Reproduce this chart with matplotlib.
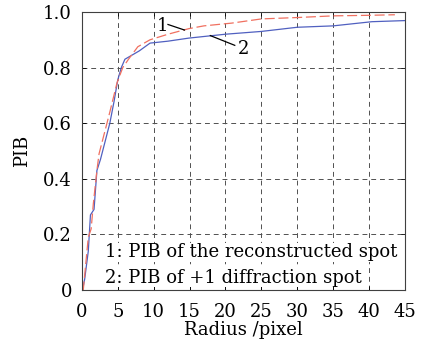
import matplotlib
matplotlib.use('Agg')
import matplotlib.pyplot as plt
import numpy as np

# PIB curves
r_rec=[0,0.2,0.9,1.3,1.6,2.1,2.4,3.0,3.9,4.9,5.7,6.5,7.8,9.5,12,14.9,17,20.9,25,30,35,40,43.6]
pib_rec=[0,0.0,0.19,0.22,0.31,0.43,0.49,0.55,0.64,0.745,0.80,0.83,0.875,0.90,0.92,0.94,0.95,0.96,0.975,0.98,0.986,0.988,0.99]

r_dif=[0,0.1,0.4,0.9,1.2,1.7,2.1,2.6,3.1,3.9,4.5,5.0,5.5,6.0,7.0,8.0,9.5,12,14.9,20,25,30,35,40.4,45]
pib_dif=[0,0.0,0.04,0.14,0.27,0.29,0.43,0.47,0.52,0.60,0.68,0.755,0.80,0.83,0.845,0.86,0.888,0.895,0.906,0.92,0.93,0.945,0.95,0.965,0.969]

xticks=[0,5,10,15,20,25,30,35,40,45]
yticks=[0,0.2,0.4,0.6,0.8,1.0]
ytick_labels=['0','0.2','0.4','0.6','0.8','1.0']

plt.rcParams['font.family']=['DejaVu Serif']
plt.rcParams['font.size']=13

fig=plt.figure(figsize=(4.24,3.42),dpi=100,facecolor='white')
ax=fig.add_axes([0.193,0.152,0.762,0.813])

ax.plot(r_dif,pib_dif,color='#5060c0',linewidth=0.9)
ax.plot(r_rec,pib_rec,color='#f07060',linewidth=0.9,dashes=(8,3))

ax.set_xlim(0,45)
ax.set_ylim(0,1)
ax.set_xticks(xticks)
ax.set_yticks(yticks)
ax.set_yticklabels(ytick_labels)
ax.tick_params(direction='in',top=True,right=True,length=3,width=0.6)
ax.tick_params(axis='x',pad=9)
ax.tick_params(axis='y',pad=7)
ax.grid(True,color='#505050',linestyle=(0,(5,4)),linewidth=0.7)
for s in ax.spines.values():
    s.set_linewidth(0.8)
    s.set_color('#404040')

ax.set_xlabel('Radius /pixel',labelpad=0)
ax.set_ylabel('PIB',labelpad=9)

# curve labels with leader lines
ax.text(11.2,0.95,'1',ha='center',va='center')
ax.plot([12.0,14.3],[0.955,0.935],color='black',linewidth=0.9)
ax.text(22.5,0.867,'2',ha='center',va='center')
ax.plot([17.9,21.3],[0.915,0.88],color='black',linewidth=0.9)

box=dict(facecolor='white',edgecolor='none',pad=0.5)
ax.text(3.2,0.135,'1: PIB of the reconstructed spot',ha='left',va='center',bbox=box)
ax.text(3.2,0.045,'2: PIB of +1 diffraction spot',ha='left',va='center',bbox=box)

fig.savefig('out.png',dpi=100)
